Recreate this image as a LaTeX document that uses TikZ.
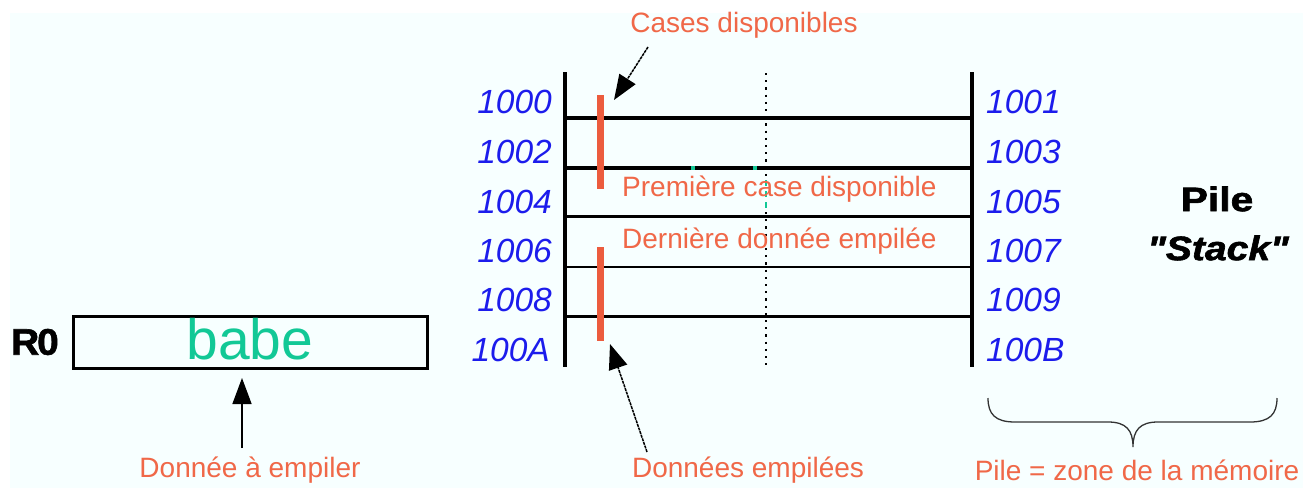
\documentclass[tikz,border=0pt]{standalone}
\usepackage{fontspec}
\setmainfont{Liberation Sans}[Ligatures=TeXOff]
\newfontfamily\heavyfont{Liberation Sans}[FakeBold=1.6, Ligatures=TeXOff]
\usetikzlibrary{arrows.meta}
\definecolor{bgcyan}{RGB}{247,255,255}
\definecolor{addrblue}{RGB}{28,28,236}
\definecolor{coral}{RGB}{240,104,72}
\definecolor{barred}{RGB}{236,92,62}
\definecolor{tealc}{RGB}{18,200,150}
\tikzset{
  addr/.style={text=addrblue, inner sep=0pt, font=\fontsize{33.5}{38}\selectfont\itshape},
  note/.style={text=coral, inner sep=0pt, font=\fontsize{28}{32}\selectfont},
  frame/.style={line width=4pt, black},
  rowline/.style={line width=2.5pt, black},
  redbar/.style={line width=7pt, barred},
  pointer/.style={line width=1.5pt, dash pattern=on 3pt off 0.8pt, -{Triangle[length=25pt,width=19pt]}},
  dotline/.style={line width=2.1pt, dash pattern=on 2.2pt off 5pt},
}
\begin{document}
\begin{tikzpicture}[x=1pt,y=-1pt]
\useasboundingbox (0,0) rectangle (1303,488);
\fill[white] (0,0) rectangle (1303,488);
\fill[bgcyan] (10,13) rectangle (1303,488);
% dotted middle line
\draw[dotline] (766,73) -- (766,178);
\draw[dotline] (766,212) -- (766,366);
\draw[line width=1.8pt, tealc, dash pattern=on 6pt off 5pt] (766,180) -- (766,211);
% row lines
\draw[frame, line width=3.6pt] (565,118) -- (972,118);
\draw[frame, line width=3.6pt] (565,168) -- (972,168);
\draw[rowline] (565,216.5) -- (972,216.5);
\draw[rowline] (565,267) -- (972,267);
\draw[rowline] (565,316.5) -- (972,316.5);
\draw[tealc, line width=3.6pt] (691,168) -- (695,168);
\draw[tealc, line width=3.6pt] (753,168) -- (757,168);
% frame verticals
\draw[frame, line width=3.4pt] (565,72) -- (565,367);
\draw[frame] (972,72) -- (972,367);
% red bars
\draw[redbar] (600,95) -- (600,189);
\draw[redbar] (600,247) -- (600,341);
% left addresses
\node[addr, anchor=east] (a0) at (552,102) {1000};
\node[addr, anchor=east] (a2) at (552,152) {1002};
\node[addr, anchor=east] (a4) at (552,202) {1004};
\node[addr, anchor=east] (a6) at (552,251) {1006};
\node[addr, anchor=east] (a8) at (552,300) {1008};
\node[addr, anchor=east] (aA) at (550,350) {100A};
% right addresses
\node[addr, anchor=west] (b1) at (986,102) {1001};
\node[addr, anchor=west] (b3) at (986,152) {1003};
\node[addr, anchor=west] (b5) at (986,202) {1005};
\node[addr, anchor=west] (b7) at (986,251) {1007};
\node[addr, anchor=west] (b9) at (986,300) {1009};
\node[addr, anchor=west] (bB) at (986,350) {100B};
% in-stack notes
\node[note, anchor=west] (first) at (622,189) {Première case disponible};
\node[note, anchor=west] (last) at (622,241) {Dernière donnée empilée};
% Pile / Stack
\node[inner sep=0pt, font=\fontsize{34}{36}\selectfont\heavyfont\bfseries, xscale=1.2] (pile) at (1217,199) {Pile};
\node[inner sep=0pt, font=\fontsize{34}{36}\selectfont\heavyfont\bfseries\itshape, xscale=1.15] (stack) at (1218,248) {"Stack"};
% top pointer
\node[note] (cases) at (744,25) {Cases disponibles};
\coordinate (ctail) at (648,47);
\coordinate (ctip) at (614,100);
\draw[pointer] (ctail) -- (ctip);
% bottom pointer
\node[note] (donnees) at (748,470) {Données empilées};
\coordinate (dtail) at (647,452);
\coordinate (dtip) at (610,344);
\draw[pointer] (dtail) -- (dtip);
% R0 register
\node[inner sep=0pt, font=\fontsize{37}{40}\selectfont\heavyfont\bfseries, anchor=west, xscale=1.05] (r0) at (11,342) {R\kern-2pt0};
\node[draw, line width=3pt, minimum width=354pt, minimum height=52pt, inner sep=0pt] (reg) at (250,342) {};
\node[text=tealc, inner sep=0pt, font=\fontsize{57}{60}\selectfont] (babe) at (250,339) {babe};
\node[note] (aempiler) at (250,470) {Donnée à empiler};
\coordinate (etail) at (242,448);
\coordinate (etip) at (242,378);
\draw[line width=1.6pt, -{Triangle[length=26pt,width=19pt]}] (etail) -- (etip);
% brace
\draw[line width=1.3pt, black!80] (988,398) .. controls (988,414) and (995,422) .. (1015,422) -- (1108,422) .. controls (1126,422) and (1133,430) .. (1133,447)
  .. controls (1133,430) and (1140,422) .. (1158,422) -- (1250,422) .. controls (1270,422) and (1277,414) .. (1277,398);
\node[note] (zone) at (1137,470) {Pile = zone de la mémoire};
\end{tikzpicture}
\end{document}
